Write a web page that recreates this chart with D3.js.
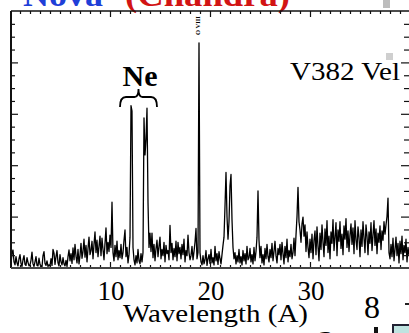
<!DOCTYPE html>
<html>
<head>
<meta charset="utf-8">
<script src="https://cdn.jsdelivr.net/npm/d3@7"></script>
<style>
  html, body { margin: 0; padding: 0; background: #fff; overflow: hidden; }
  svg { display: block; }
  text { font-family: "Liberation Serif", "Times New Roman", serif; }
</style>
</head>
<body>
<svg id="chart" width="409" height="333"></svg>
<script>
// X-ray spectrum of nova V382 Vel (Chandra), counts vs wavelength.
// Samples start at 0.1 A and step by 0.1 A (one row per angstrom).
const wlStart = 0.1;
const wlStep = 0.1;
const counts = [
  0.8, 2.9, 3.5, 1.2, 0.6, 2.2, 1.0, 0.4, 1.8, 2.6,
  0.9, 0.3, 1.6, 2.4, 0.7, 0.5, 2.0, 1.1, 0.4, 0.6,
  1.5, 3.1, 0.8, 0.3, 1.2, 2.2, 0.5, 0.4, 1.9, 0.7,
  0.4, 0.2, 2.4, 3.2, 0.9, 0.5, 1.4, 0.3, 0.6, 0.4,
  1.8, 0.5, 3.6, 2.9, 0.7, 2.2, 3.4, 1.0, 0.4, 2.6,
  1.2, 0.6, 2.0, 0.8, 0.4, 1.5, 0.3, 2.2, 3.5, 1.4,
  2.8, 0.9, 3.9, 1.6, 4.6, 2.3, 1.0, 3.6, 0.8, 2.4,
  4.8, 1.9, 3.2, 5.6, 2.1, 4.4, 1.2, 3.8, 6.0, 2.6,
  3.4, 5.2, 1.8, 4.6, 7.0, 3.0, 5.4, 2.2, 4.2, 6.2,
  2.4, 5.8, 3.6, 1.6, 4.8, 7.8, 2.8, 5.0, 3.2, 6.4,
  4.0, 12.8, 3.0, 1.4, 4.4, 2.2, 5.2, 1.6, 3.4, 2.0,
  4.6, 1.8, 3.0, 5.4, 7.4, 2.2, 4.0, 1.0, 2.6, 6.0,
  31.6, 30.5, 4.0, 1.6, 0.6, 2.4, 1.0, 3.6, 1.4, 0.8,
  2.8, 1.2, 3.0, 29.2, 22.0, 25.0, 31.1, 12.8, 4.0, 6.8,
  3.2, 6.8, 2.0, 4.6, 1.4, 3.8, 5.4, 2.2, 4.2, 6.0,
  1.8, 3.6, 2.4, 5.0, 1.2, 4.4, 2.8, 3.4, 1.6, 8.3,
  3.0, 4.8, 1.6, 3.8, 2.2, 5.2, 1.4, 5.0, 2.8, 4.0,
  1.8, 4.6, 2.6, 5.6, 1.2, 3.4, 2.4, 6.4, 3.0, 1.6,
  2.4, 4.2, 1.6, 3.2, 5.0, 7.7, 1.8, 3.0, 43.8, 3.0,
  1.2, 0.6, 2.4, 0.8, 1.6, 3.4, 0.5, 1.8, 2.6, 0.9,
  3.6, 1.0, 2.0, 0.6, 4.2, 1.4, 2.8, 0.7, 3.2, 1.8,
  0.8, 2.6, 4.4, 6.0, 12.0, 18.6, 10.0, 5.6, 9.0, 16.0,
  18.2, 9.4, 4.0, 1.8, 3.0, 0.8, 2.4, 1.2, 3.6, 1.0,
  2.2, 0.6, 3.4, 1.4, 2.8, 0.8, 4.2, 1.6, 2.0, 3.8,
  1.2, 2.6, 0.8, 4.0, 1.4, 3.2, 6.0, 15.0, 5.4, 2.0,
  4.2, 1.0, 2.6, 0.6, 3.8, 1.8, 4.6, 2.2, 1.2, 3.6,
  2.0, 4.8, 1.4, 3.2, 5.2, 2.4, 1.0, 3.8, 2.6, 4.6,
  1.6, 5.0, 2.8, 0.8, 4.2, 2.0, 5.6, 1.2, 3.4, 2.2,
  4.6, 1.8, 3.0, 5.8, 2.4, 6.4, 10.0, 15.7, 9.0, 7.4,
  5.0, 8.6, 9.9, 6.2, 8.4, 3.2, 7.0, 4.0, 2.0, 5.6,
  3.0, 6.6, 1.8, 5.4, 7.2, 2.6, 8.0, 4.2, 1.4, 6.8,
  3.6, 8.4, 5.0, 2.2, 7.6, 4.4, 9.2, 3.0, 6.2, 1.8,
  7.0, 4.8, 9.4, 3.4, 6.0, 8.8, 2.4, 7.4, 5.2, 9.0,
  3.8, 6.6, 2.6, 8.2, 5.6, 9.6, 4.0, 7.2, 3.2, 6.4,
  8.6, 4.6, 7.8, 2.8, 9.2, 5.4, 3.6, 8.0, 6.0, 2.2,
  7.4, 4.2, 9.0, 5.8, 3.0, 8.4, 6.2, 2.6, 7.0, 4.8,
  8.8, 3.4, 6.4, 9.2, 4.4, 7.6, 2.8, 6.8, 5.0, 8.2,
  3.6, 7.2, 5.4, 9.0, 6.6, 8.4, 10.0, 13.6, 3.0, 1.8,
  4.6, 2.2, 5.8, 1.4, 3.6, 6.0, 2.4, 4.8, 1.0, 5.2,
  2.8, 6.2, 1.6, 4.4, 3.0, 5.6, 1.2, 4.0, 2.6, 3.2
];
const xLabels = [10, 20, 30];
const lineLabels = [{ text: "O VIII", wl: 18.9 }];

const svg = d3.select("#chart");
const padL = 11, padT = 11, padR = 410, padB = 268;

const x = d3.scaleLinear().domain([0, 40]).range([10, 410]);
const y = d3.scaleLinear().domain([0, 50]).range([padB, padT]);

// slide title above the panel (mostly clipped at the top edge)
svg.append("text").attr("x", 23).attr("y", 6)
  .attr("font-size", 33).attr("font-weight", "bold").attr("fill", "#1f3fd8")
  .attr("textLength", 80).attr("lengthAdjust", "spacingAndGlyphs").text("Nova");
svg.append("text").attr("x", 125).attr("y", 6)
  .attr("font-size", 33).attr("font-weight", "bold").attr("fill", "#d21414")
  .attr("textLength", 165).attr("lengthAdjust", "spacingAndGlyphs").text("(Chandra)");

// spectrum
const pts = counts.map((c, i) => [wlStart + i * wlStep, c]);
svg.append("path")
  .datum(pts)
  .attr("fill", "none")
  .attr("stroke", "#000")
  .attr("stroke-width", 1.3)
  .attr("stroke-linejoin", "round")
  .attr("d", d3.line().x(d => x(d[0])).y(d => y(d[1])));

// frame ticks (all pointing inward)
function ticksGroup(axis, transform) {
  const g = svg.append("g").attr("transform", transform).call(axis);
  g.select(".domain").remove();
  g.selectAll("line").attr("stroke", "#111").attr("stroke-width", 1.2);
  return g;
}
const minorX = d3.range(1, 40).filter(v => v % 10 !== 0);
ticksGroup(d3.axisTop(x).tickValues(minorX).tickSize(-3).tickFormat(""), `translate(0,${padT})`);
ticksGroup(d3.axisTop(x).tickValues(xLabels).tickSize(-6).tickFormat(""), `translate(0,${padT})`);
ticksGroup(d3.axisBottom(x).tickValues(minorX).tickSize(-3).tickFormat(""), `translate(0,${padB})`);
ticksGroup(d3.axisBottom(x).tickValues(xLabels).tickSize(-6).tickFormat(""), `translate(0,${padB})`);

// wavelength labels under the major ticks
svg.append("g").selectAll("text").data(xLabels).join("text")
  .attr("x", d => x(d) + 1).attr("y", 300)
  .attr("text-anchor", "middle")
  .attr("font-size", 27)
  .text(d => d);

const minorY = d3.range(0, 50.01, 2.5).filter(v => v % 10 !== 0);
const majorY = [10, 20, 30, 40];
ticksGroup(d3.axisLeft(y).tickValues(minorY).tickSize(-4).tickFormat(""), `translate(${padL},0)`);
ticksGroup(d3.axisLeft(y).tickValues(majorY).tickSize(-7).tickFormat(""), `translate(${padL},0)`);
ticksGroup(d3.axisRight(y).tickValues(minorY).tickSize(-5).tickFormat(""), `translate(${padR - 1},0)`);
ticksGroup(d3.axisRight(y).tickValues(majorY).tickSize(-8).tickFormat(""), `translate(${padR - 1},0)`);

// frame
svg.append("line").attr("x1", padL).attr("x2", padL).attr("y1", padT).attr("y2", padB)
  .attr("stroke", "#111").attr("stroke-width", 2);
svg.append("line").attr("x1", padL).attr("x2", padR).attr("y1", padT).attr("y2", padT)
  .attr("stroke", "#111").attr("stroke-width", 1.6);
svg.append("line").attr("x1", padL).attr("x2", padR).attr("y1", padB).attr("y2", padB)
  .attr("stroke", "#444").attr("stroke-width", 1.8);

// axis title
svg.append("text").attr("x", 123).attr("y", 322)
  .attr("font-size", 25).attr("textLength", 185).attr("lengthAdjust", "spacingAndGlyphs")
  .text("Wavelength (A)");

// object name
svg.append("text").attr("x", 290).attr("y", 80)
  .attr("font-size", 26).attr("textLength", 110).attr("lengthAdjust", "spacingAndGlyphs")
  .text("V382 Vel");

// Ne lines bracket
svg.append("text").attr("x", 140).attr("y", 86).attr("text-anchor", "middle")
  .attr("font-size", 30).attr("font-weight", "bold").text("Ne");
const bx0 = x(11.0), bx1 = x(14.7), bmid = (bx0 + bx1) / 2;
svg.append("path")
  .attr("d", `M${bx0},107 Q${bx0},97 ${bx0 + 6},97 L${bmid - 4},97 Q${bmid},97 ${bmid},89 ` +
             `Q${bmid},97 ${bmid + 4},97 L${bx1 - 6},97 Q${bx1},97 ${bx1},107`)
  .attr("fill", "none").attr("stroke", "#000").attr("stroke-width", 1.8);

// line identification
lineLabels.forEach(l => {
  svg.append("text")
    .attr("transform", `translate(${x(l.wl) + 1},35) rotate(-90)`)
    .attr("font-size", 6.5).attr("font-weight", "bold").text(l.text);
});

// neighbouring slide fragments
svg.append("rect").attr("x", 383).attr("y", 0).attr("width", 7).attr("height", 8).attr("fill", "#bdbdbd");
svg.append("rect").attr("x", 386).attr("y", 53).attr("width", 7).attr("height", 7).attr("fill", "#cfcfcf");
svg.append("text").attr("x", 364).attr("y", 318).attr("font-size", 32).text("8");
svg.append("text").attr("x", 318).attr("y", 354).attr("font-size", 34).text("2");
svg.append("rect").attr("x", 374).attr("y", 327).attr("width", 4).attr("height", 6).attr("fill", "#111");
svg.append("rect").attr("x", 405).attr("y", 303).attr("width", 4).attr("height", 2).attr("fill", "#222");
svg.append("rect").attr("x", 393).attr("y", 325).attr("width", 18).attr("height", 10)
  .attr("fill", "#bfe3e0").attr("stroke", "#223").attr("stroke-width", 2);
</script>
</body>
</html>
